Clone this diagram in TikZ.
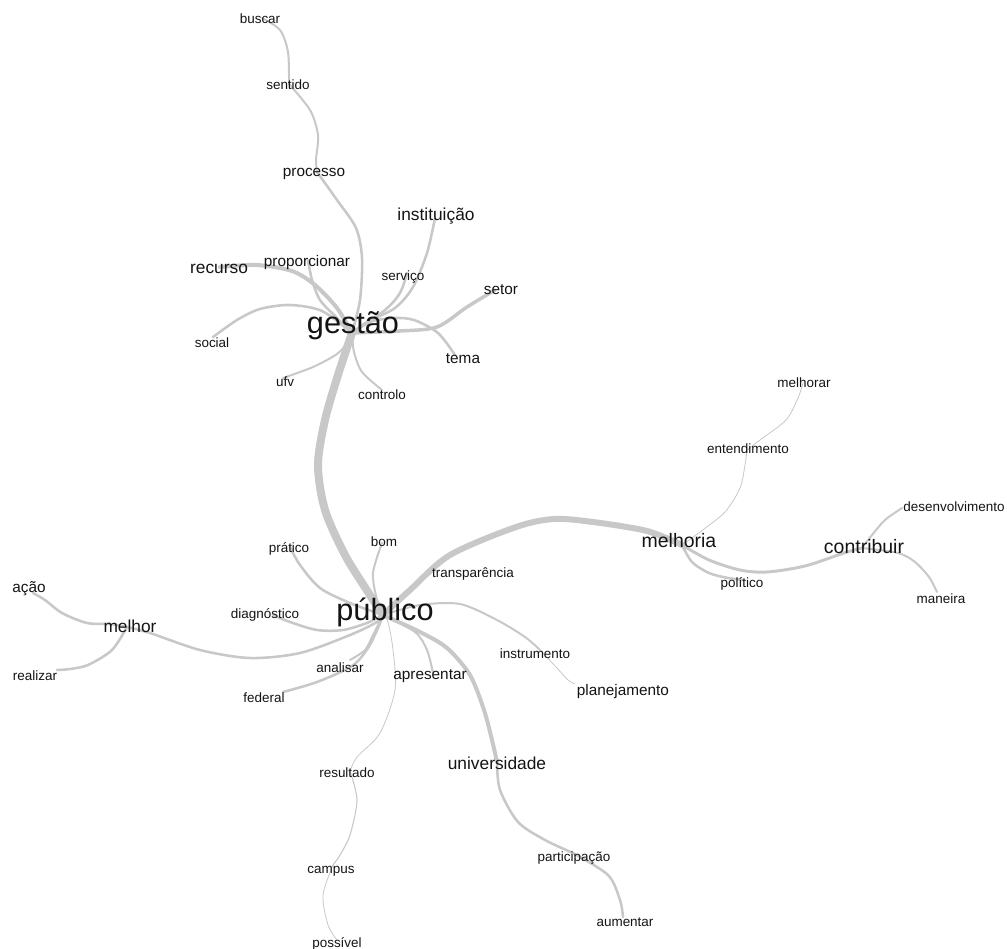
\documentclass[tikz,border=0pt]{standalone}
\usepackage{fontspec}
\setmainfont{Liberation Sans}
\definecolor{edgegray}{HTML}{C8C8C8}
\begin{document}
\begin{tikzpicture}[x=0.75pt,y=-0.75pt,
  e/.style={draw=edgegray,line cap=round,line join=round},
  lbl/.style={inner sep=0pt,text=black!92,text height=1.05em,text depth=0.05em,anchor=center},
  fa/.style={lbl,font=\fontsize{23}{23}\selectfont,yshift=-3pt},
  fb/.style={lbl,font=\fontsize{14.6}{15}\selectfont,yshift=-0.8pt},
  fc/.style={lbl,font=\fontsize{13}{13}\selectfont},
  fd/.style={lbl,font=\fontsize{11.5}{12}\selectfont},
  fe/.style={lbl,font=\fontsize{10.1}{11}\selectfont}]
\fill[white] (0,0) rectangle (1007,949);
\useasboundingbox (0,0) rectangle (1007,949);
% vertices
\coordinate (buscar) at (262,18);
\coordinate (sentido) at (289,84);
\coordinate (processo) at (317,172);
\coordinate (gestao) at (352,333);
\coordinate (instituicao) at (435,218);
\coordinate (servico) at (407,273);
\coordinate (recurso) at (220,267);
\coordinate (proporcionar) at (308,260);
\coordinate (social) at (213,337);
\coordinate (setor) at (495,290);
\coordinate (tema) at (455,355);
\coordinate (ufv) at (283,378);
\coordinate (controlo) at (382,390);
\coordinate (publico) at (383,615);
\coordinate (melhoria) at (682,545);
\coordinate (contribuir) at (862,548);
\coordinate (politico) at (744,580);
\coordinate (entendimento) at (747,450);
\coordinate (melhorar) at (803,383);
\coordinate (desenvolvimento) at (902,508);
\coordinate (maneira) at (937,592);
\coordinate (transparencia) at (431,573);
\coordinate (pratico) at (290,547);
\coordinate (bom) at (382,543);
\coordinate (diagnostico) at (273,615);
\coordinate (melhor) at (127,627);
\coordinate (acao) at (33,593);
\coordinate (realizar) at (57,670);
\coordinate (analisar) at (350,660);
\coordinate (federal) at (283,692);
\coordinate (apresentar) at (433,673);
\coordinate (resultado) at (350,771);
\coordinate (campus) at (333,865);
\coordinate (possivel) at (337,940);
\coordinate (universidade) at (497,762);
\coordinate (participacao) at (573,853);
\coordinate (aumentar) at (623,917);
\coordinate (instrumento) at (540,650);
\coordinate (planejamento) at (575,684);
% edges
\draw[e,line width=1.5pt] plot[smooth] coordinates {(buscar) (280,30) (288,52) (289,84)};
\draw[e,line width=1.5pt] plot[smooth] coordinates {(sentido) (310,110) (318,135) (316,160) (processo)};
\draw[e,line width=1.9pt] plot[smooth] coordinates {(processo) (337,200) (356,228) (362,258) (360,300) (gestao)};
\draw[e,line width=1.9pt] plot[smooth] coordinates {(instituicao) (427,253) (413,287) (395,308) (367,322) (gestao)};
\draw[e,line width=1.9pt] plot[smooth] coordinates {(servico) (400,293) (385,310) (gestao)};
\draw[e,line width=3pt] plot[smooth] coordinates {(recurso) (257,265) (292,271) (315,285) (337,308) (gestao)};
\draw[e,line width=1.9pt] plot[smooth] coordinates {(proporcionar) (312,280) (320,300) (335,316) (gestao)};
\draw[e,line width=1.9pt] plot[smooth] coordinates {(social) (237,320) (260,309) (290,305) (322,311) (gestao)};
\draw[e,line width=2.6pt] plot[smooth] coordinates {(setor) (467,307) (437,327) (400,331) (gestao)};
\draw[e,line width=1.9pt] plot[smooth] coordinates {(tema) (438,333) (414,320) (393,318) (370,322) (gestao)};
\draw[e,line width=1.5pt] plot[smooth] coordinates {(ufv) (313,367) (337,354) (348,342) (gestao)};
\draw[e,line width=1.5pt] plot[smooth] coordinates {(controlo) (362,372) (354,352) (gestao)};
\draw[e,line width=6pt] plot[smooth] coordinates {(gestao) (338,375) (325,420) (318,465) (325,510) (345,555) (368,592) (publico)};
\draw[e,line width=4.5pt] plot[smooth] coordinates {(publico) (410,590) (450,555) (516,527) (554,519) (593,522) (647,531) (melhoria)};
\draw[e,line width=1.5pt] plot[smooth] coordinates {(publico) (403,595) (420,580) (transparencia)};
\draw[e,line width=2.2pt] plot[smooth] coordinates {(melhoria) (709,560) (740,570) (767,572) (805,566) (844,553) (contribuir)};
\draw[e,line width=1.9pt] plot[smooth] coordinates {(melhoria) (692,562) (709,573) (728,578) (politico)};
\draw[e,line width=0.6pt] plot[smooth] coordinates {(melhoria) (700,532) (725,512) (740,488) (745,465) (entendimento)};
\draw[e,line width=0.6pt] plot[smooth] coordinates {(entendimento) (760,440) (786,420) (798,398) (melhorar)};
\draw[e,line width=1.5pt] plot[smooth] coordinates {(contribuir) (872,535) (885,520) (desenvolvimento)};
\draw[e,line width=1.5pt] plot[smooth] coordinates {(contribuir) (898,553) (915,562) (929,577) (maneira)};
\draw[e,line width=1.9pt] plot[smooth] coordinates {(publico) (350,603) (320,588) (300,565) (pratico)};
\draw[e,line width=1.5pt] plot[smooth] coordinates {(publico) (377,600) (373,573) (bom)};
\draw[e,line width=1.9pt] plot[smooth] coordinates {(publico) (367,623) (343,630) (317,630) (290,622) (diagnostico)};
\draw[e,line width=1.9pt] plot[smooth] coordinates {(publico) (377,622) (350,635) (300,653) (250,658) (200,650) (150,633) (melhor)};
\draw[e,line width=1.9pt] plot[smooth] coordinates {(melhor) (110,624) (87,623) (62,613) (45,600) (acao)};
\draw[e,line width=1.9pt] plot[smooth] coordinates {(melhor) (112,650) (88,665) (70,669) (realizar)};
\draw[e,line width=1.5pt] plot[smooth] coordinates {(publico) (373,635) (365,650) (analisar)};
\draw[e,line width=1.9pt] plot[smooth] coordinates {(publico) (378,628) (368,648) (352,666) (317,682) (federal)};
\draw[e,line width=1.5pt] plot[smooth] coordinates {(publico) (415,632) (427,650) (apresentar)};
\draw[e,line width=0.6pt] plot[smooth] coordinates {(publico) (388,622) (393,650) (395,690) (380,733) (357,757) (resultado)};
\draw[e,line width=0.8pt] plot[smooth] coordinates {(resultado) (357,800) (350,835) (340,855) (campus)};
\draw[e,line width=0.6pt] plot[smooth] coordinates {(campus) (323,895) (328,925) (possivel)};
\draw[e,line width=3pt] plot[smooth] coordinates {(publico) (420,632) (447,648) (470,675) (484,710) (492,740) (universidade)};
\draw[e,line width=1.9pt] plot[smooth] coordinates {(universidade) (500,790) (518,822) (545,840) (participacao)};
\draw[e,line width=1.9pt] plot[smooth] coordinates {(participacao) (608,875) (620,900) (aumentar)};
\draw[e,line width=1.5pt] plot[smooth] coordinates {(publico) (420,605) (460,604) (497,620) (525,637) (instrumento)};
\draw[e,line width=0.6pt] plot[smooth] coordinates {(instrumento) (557,668) (568,680) (planejamento)};
% labels
\node[fe] (t-buscar) at (260,17) {buscar};
\node[fe] (t-sentido) at (288,83) {sentido};
\node[fd] (t-processo) at (314,170) {processo};
\node[fc] (t-instituicao) at (436,214) {instituição};
\node[fc] (t-recurso) at (219,267) {recurso};
\node[fd] (t-proporcionar) at (307,260) {proporcionar};
\node[fe] (t-servico) at (403,274) {serviço};
\node[fd] (t-setor) at (501,288) {setor};
\node[fa] (t-gestao) at (353,323) {gestão};
\node[fe] (t-social) at (212,341) {social};
\node[fd] (t-tema) at (463,357) {tema};
\node[fe] (t-ufv) at (285,380) {ufv};
\node[fe] (t-controlo) at (382,393) {controlo};
\node[fe] (t-melhorar) at (804,381) {melhorar};
\node[fe] (t-entendimento) at (748,447) {entendimento};
\node[fe] (t-desenvolvimento) at (954,505) {desenvolvimento};
\node[fb] (t-melhoria) at (679,540) {melhoria};
\node[fb] (t-contribuir) at (864,546) {contribuir};
\node[fe] (t-bom) at (384,540) {bom};
\node[fe] (t-pratico) at (289,546) {prático};
\node[fe] (t-transparencia) at (473,571) {transparência};
\node[fe] (t-politico) at (742,581) {político};
\node[fd] (t-acao) at (29,586) {ação};
\node[fe] (t-maneira) at (941,597) {maneira};
\node[fa] (t-publico) at (385,610) {público};
\node[fe] (t-diagnostico) at (265,612) {diagnóstico};
\node[fc] (t-melhor) at (130,626) {melhor};
\node[fe] (t-instrumento) at (535,652) {instrumento};
\node[fe] (t-analisar) at (340,666) {analisar};
\node[fd] (t-apresentar) at (430,673) {apresentar};
\node[fe] (t-realizar) at (35,674) {realizar};
\node[fd] (t-planejamento) at (623,689) {planejamento};
\node[fe] (t-federal) at (264,696) {federal};
\node[fc] (t-universidade) at (497,763) {universidade};
\node[fe] (t-resultado) at (347,771) {resultado};
\node[fe] (t-participacao) at (574,855) {participação};
\node[fe] (t-campus) at (331,867) {campus};
\node[fe] (t-aumentar) at (625,920) {aumentar};
\node[fe] (t-possivel) at (337,941) {possível};
\end{tikzpicture}
\end{document}
